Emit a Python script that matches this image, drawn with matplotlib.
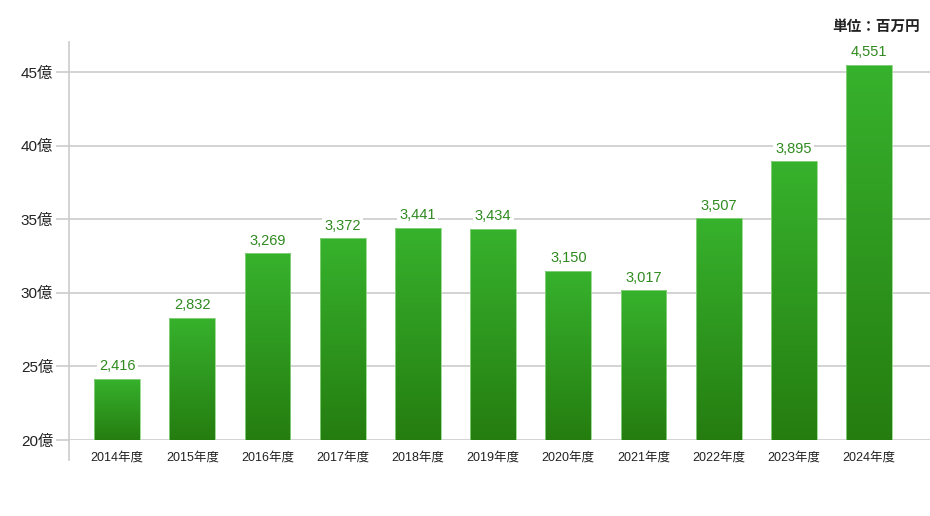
import numpy as np
import matplotlib
matplotlib.use("Agg")
import matplotlib.pyplot as plt
from matplotlib.colors import LinearSegmentedColormap

plt.rcParams["font.family"] = ["Liberation Sans", "Noto Sans CJK JP", "DejaVu Sans"]

# データ（百万円）
years = ["2014年度", "2015年度", "2016年度", "2017年度", "2018年度", "2019年度",
         "2020年度", "2021年度", "2022年度", "2023年度", "2024年度"]
sales = [2416, 2832, 3269, 3372, 3441, 3434, 3150, 3017, 3507, 3895, 4551]
yticks = [20, 25, 30, 35, 40, 45]
ytick_labels = ["20億", "25億", "30億", "35億", "40億", "45億"]

values = [v / 100 for v in sales]  # 億円
x = np.arange(len(years))

fig = plt.figure(figsize=(9.3, 5.16), dpi=100)
ax = fig.add_axes([69 / 930, 1 - 440 / 516, 1 - 69 / 930, 398 / 516])

# グリッド
for t in yticks:
    ax.axhline(t, color="#cccccc", lw=1.2, zorder=1)

grad = LinearSegmentedColormap.from_list("g", ["#257d10", "#37b22d"])
bars = ax.bar(x, [v - 20 for v in values], bottom=20, width=0.61,
              color="none", edgecolor="#8fd484", lw=0.6, zorder=3)
for b in bars:
    x0, y0, w, h = b.get_x(), b.get_y(), b.get_width(), b.get_height()
    im = ax.imshow(np.linspace(0, 1, 256).reshape(-1, 1), cmap=grad, origin="lower",
                   extent=[x0, x0 + w, y0, y0 + h], aspect="auto", zorder=2)
    im.set_clip_path(b)

ax.set_xlim(-0.64, len(years) - 1 + 0.81)
ax.set_ylim(20, 47.04)

for xi, v, s in zip(x, values, sales):
    ax.annotate(f"{s:,}", (xi, v), xytext=(0, 4), textcoords="offset points",
                ha="center", va="bottom", fontsize=10.5, color="#2f8a1f",
                bbox=dict(boxstyle="square,pad=0.15", fc="white", ec="none"), zorder=4)

ax.set_yticks(yticks)
ax.set_yticklabels(ytick_labels, fontsize=11, color="#222222")
ax.set_xticks(x)
ax.set_xticklabels(years, fontsize=9, color="#222222")
ax.tick_params(axis="y", length=9.5, color="#cccccc", width=1.2, pad=2)
ax.tick_params(axis="x", length=0, pad=8)

for sp in ["top", "right", "bottom"]:
    ax.spines[sp].set_visible(False)
ax.spines["left"].set_color("#cccccc")
ax.spines["left"].set_linewidth(1.2)
ax.plot([0, 0], [0, -20 / 398], transform=ax.transAxes, color="#cccccc", lw=1.2, clip_on=False)

fig.text(920 / 930, 1 - 27 / 516, "単位：百万円", ha="right", va="center",
         fontsize=10.5, fontweight="bold", color="#222222")

fig.savefig("out.png", dpi=100)
